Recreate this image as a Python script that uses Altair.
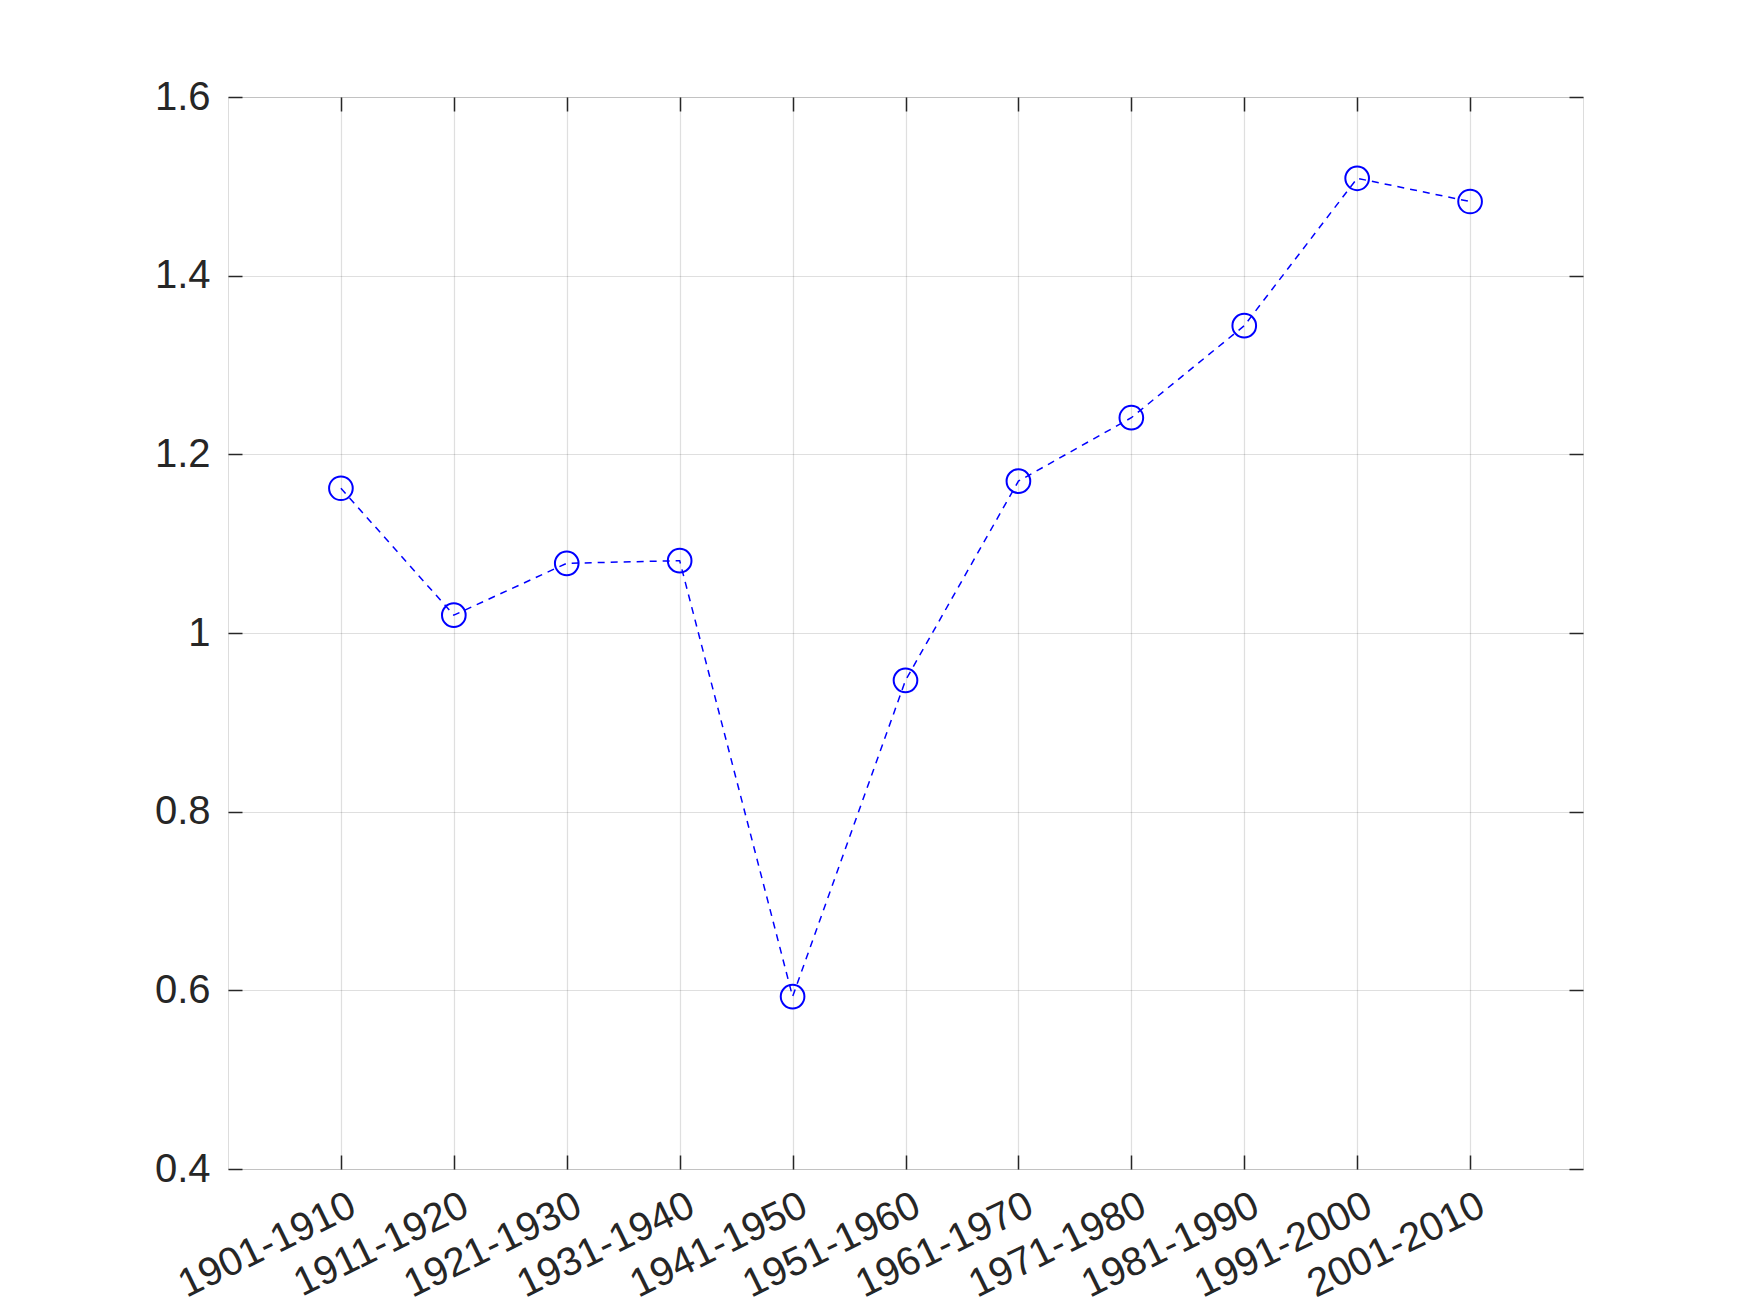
import altair as alt
import pandas as pd

categories = ["1901-1910", "1911-1920", "1921-1930", "1931-1940", "1941-1950",
              "1951-1960", "1961-1970", "1971-1980", "1981-1990", "1991-2000", "2001-2010"]
values = [1.162, 1.020, 1.078, 1.081, 0.593, 0.947, 1.170, 1.241, 1.344, 1.509, 1.483]
y_ticks = [0.4, 0.6, 0.8, 1.0, 1.2, 1.4, 1.6]

df = pd.DataFrame({"period": categories, "value": values})

FONT = "Liberation Sans"
AX = "#262626"
BLUE = "#0000ff"
TICK = 14
FS = 40

xscale = alt.Scale(type="point", domain=categories, padding=1)
yscale = alt.Scale(domain=[0.4, 1.6], nice=False, zero=False)

base = alt.Chart(df)

# grid-only layer
grid = base.mark_point(opacity=0).encode(
    x=alt.X("period:N", scale=xscale, sort=None,
            axis=alt.Axis(orient="bottom", grid=True, ticks=False, labels=False, domain=False,
                          title=None, gridColor=AX, gridOpacity=0.15, gridWidth=1.2)),
    y=alt.Y("value:Q", scale=yscale,
            axis=alt.Axis(orient="left", grid=True, ticks=False, labels=False, domain=False,
                          title=None, values=y_ticks, gridColor=AX, gridOpacity=0.15, gridWidth=1.2)),
)

line = base.mark_line(color=BLUE, strokeWidth=1.5, strokeDash=[7, 6]).encode(
    x=alt.X("period:N", scale=xscale, sort=None,
            axis=alt.Axis(orient="bottom", grid=False, domain=False, title=None,
                          offset=-TICK, tickSize=TICK, tickColor=AX, tickWidth=1.5,
                          labelAngle=-26, labelAlign="right", labelBaseline="top",
                          labelPadding=16, labelOffset=3, labelLimit=500, labelOverlap=False,
                          labelFont=FONT, labelFontSize=FS, labelColor=AX)),
    y=alt.Y("value:Q", scale=yscale,
            axis=alt.Axis(orient="left", grid=False, domain=False, title=None,
                          values=y_ticks, format="~g",
                          offset=-TICK, tickSize=TICK, tickColor=AX, tickWidth=1.5,
                          labelPadding=18, labelFont=FONT, labelFontSize=FS, labelColor=AX)),
)

points = base.mark_point(shape="circle", filled=False, color=BLUE, size=560, strokeWidth=2, opacity=1).encode(
    x=alt.X("period:N", scale=xscale, sort=None,
            axis=alt.Axis(orient="top", grid=False, domain=False, labels=False, title=None,
                          offset=-TICK, tickSize=TICK, tickColor=AX, tickWidth=1.5)),
    y=alt.Y("value:Q", scale=yscale,
            axis=alt.Axis(orient="right", grid=False, domain=False, labels=False, title=None,
                          values=y_ticks,
                          offset=-TICK, tickSize=TICK, tickColor=AX, tickWidth=1.5)),
)

chart = alt.layer(grid, line, points).resolve_axis(
    x="independent", y="independent"
).properties(
    width=1355, height=1072,
    autosize=alt.AutoSizeParams(type="none"),
    padding={"left": 220, "top": 89, "right": 100, "bottom": 136},
).configure_view(
    stroke=AX, strokeWidth=1.5
).configure(background="white")

chart.save("out.html", embed_options={"renderer": "svg", "actions": False})
